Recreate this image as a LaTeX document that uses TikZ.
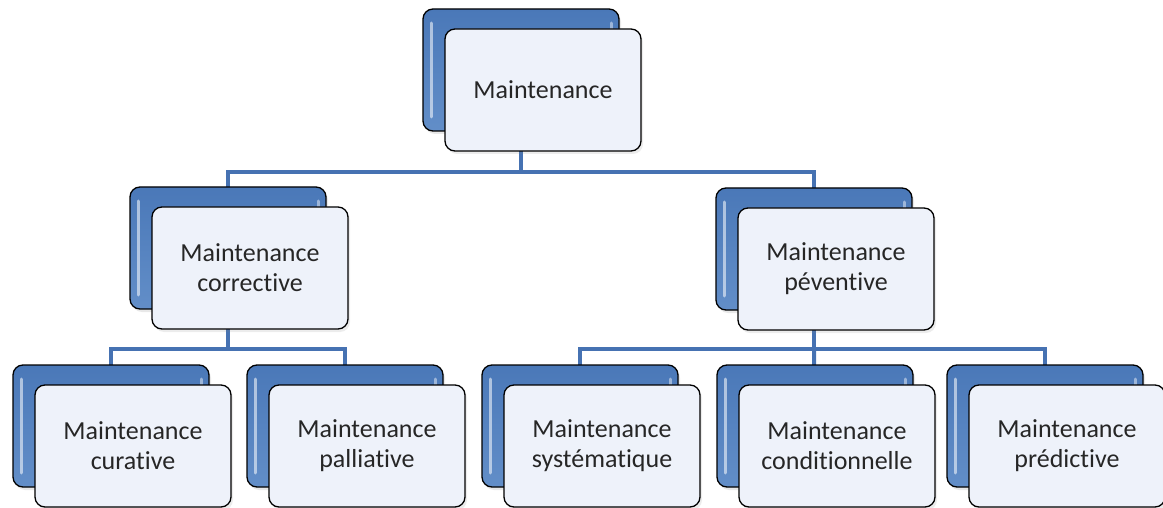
\documentclass[tikz,border=0pt]{standalone}
\usepackage{fontspec}
\setmainfont{Carlito}[Ligatures={NoCommon}]
\usepackage{xcolor}
\usetikzlibrary{shapes,positioning,backgrounds,shadows}
\definecolor{linkblue}{RGB}{70,114,178}
\definecolor{backtop}{RGB}{74,120,184}
\definecolor{backbot}{RGB}{98,142,200}
\definecolor{frontfill}{RGB}{238,242,250}
\tikzstyle{back} = [rectangle, draw=black, line width=1.3pt, rounded corners=10pt,
    minimum width=196pt, minimum height=122pt, inner sep=0pt,
    top color=backtop, bottom color=backbot,
    drop shadow={opacity=0.18, shadow xshift=2pt, shadow yshift=-3pt},
    path picture={
      \draw[white, opacity=0.55, line width=3pt, line cap=round]
        ([xshift=8pt,yshift=-14pt]path picture bounding box.north west) --
        ([xshift=8pt,yshift=14pt]path picture bounding box.south west);
      \draw[white, opacity=0.45, line width=3pt, line cap=round]
        ([xshift=-8pt,yshift=-14pt]path picture bounding box.north east) --
        ([xshift=-8pt,yshift=14pt]path picture bounding box.south east);}]
\tikzstyle{front} = [rectangle, draw=black, line width=1.3pt, rounded corners=10pt,
    minimum width=196pt, minimum height=122pt, inner sep=0pt,
    fill=frontfill,
    drop shadow={opacity=0.15, shadow xshift=2pt, shadow yshift=-3pt},
    align=center, text=black!85, font=\fontsize{26}{30}\selectfont,
    xshift=22pt, yshift=-20pt]
\tikzstyle{link} = [draw=linkblue, line width=4pt]

\begin{document}
\begin{tikzpicture}[x=1pt, y=-1pt]
        \useasboundingbox (0,0) rectangle (1163,508);
        % Components
        \node [back] (maintb) at (521,70) {};
        \node [front] (maint) at (maintb) {Maintenance};
        \node [back] (corrb) at (228,248) {};
        \node [front] (corr) at (corrb) {Maintenance\\corrective};
        \node [back] (prevb) at (814,249) {};
        \node [front] (prev) at (prevb) {Maintenance\\péventive};
        \node [back] (curab) at (111,426) {};
        \node [front] (cura) at (curab) {Maintenance\\curative};
        \node [back] (pallb) at (345,426) {};
        \node [front] (pall) at (pallb) {Maintenance\\palliative};
        \node [back] (systb) at (580,426) {};
        \node [front] (syst) at (systb) {Maintenance\\systématique};
        \node [back] (condb) at (815,426) {};
        \node [front] (cond) at (condb) {Maintenance\\conditionnelle};
        \node [back] (predb) at (1045,426) {};
        \node [front] (pred) at (predb) {Maintenance\\prédictive};

        % Connections
        \begin{scope}[on background layer]
        \path [link] (maintb.center) -- ++(0,102) coordinate (bus1) -| (corrb.center);
        \path [link] (bus1) -| (prevb.center);
        \path [link] (corrb.center) -- ++(0,101) coordinate (bus2) -| (curab.center);
        \path [link] (bus2) -| (pallb.center);
        \path [link] (prevb.center) -- ++(0,100) coordinate (bus3) -| (systb.center);
        \path [link] (bus3) -- (condb.center);
        \path [link] (bus3) -| (predb.center);
        \end{scope}
    \end{tikzpicture}
\end{document}
